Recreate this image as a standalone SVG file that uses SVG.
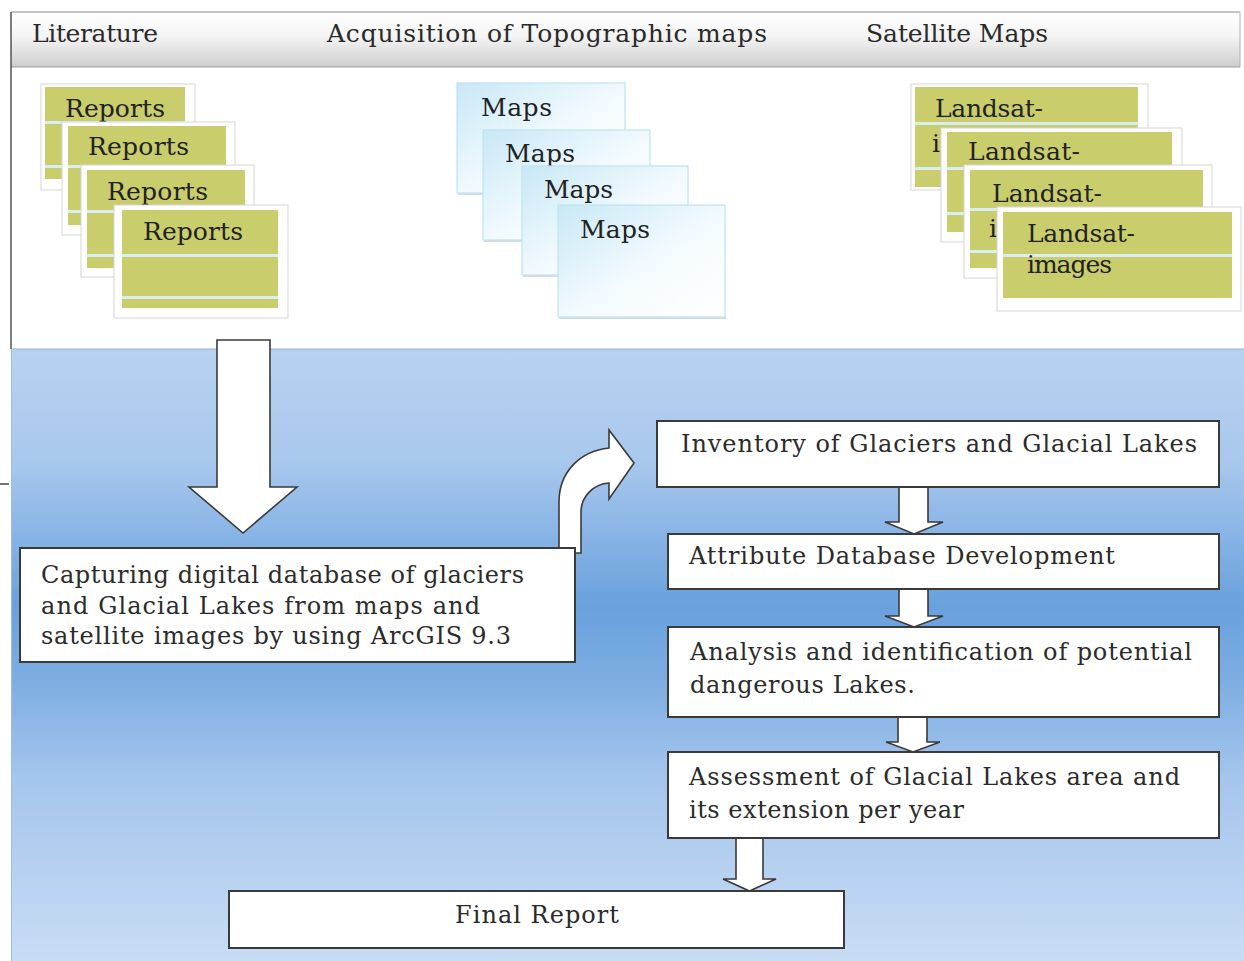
<svg xmlns="http://www.w3.org/2000/svg" width="1244" height="961" viewBox="0 0 1244 961">
  <defs>
    <linearGradient id="headerGrad" x1="0" y1="0" x2="0" y2="1">
      <stop offset="0" stop-color="#ffffff"/>
      <stop offset="0.45" stop-color="#f4f4f4"/>
      <stop offset="1" stop-color="#cdcdcd"/>
    </linearGradient>
    <linearGradient id="blueGrad" gradientUnits="userSpaceOnUse" x1="0" y1="349" x2="0" y2="961">
      <stop offset="0" stop-color="#b8d2f0"/>
      <stop offset="0.18" stop-color="#a9c8ed"/>
      <stop offset="0.31" stop-color="#86b3e5"/>
      <stop offset="0.42" stop-color="#69a1dc"/>
      <stop offset="0.54" stop-color="#7cade2"/>
      <stop offset="0.70" stop-color="#a4c5ec"/>
      <stop offset="1" stop-color="#c8dcf4"/>
    </linearGradient>
    <linearGradient id="mapGrad" x1="0" y1="0" x2="1" y2="1">
      <stop offset="0" stop-color="#c8e8f6"/>
      <stop offset="0.55" stop-color="#f4fbfe"/>
      <stop offset="1" stop-color="#ffffff"/>
    </linearGradient>
    <style>
      .hdr { font-family: "DejaVu Serif", "Liberation Serif", serif; font-size: 25px; fill: #2a2a2a; }
      .lbl { font-family: "DejaVu Serif", "Liberation Serif", serif; font-size: 25px; fill: #222; }
      .txt { font-family: "DejaVu Serif", "Liberation Serif", serif; font-size: 24px; fill: #2b2b2b; }
      .sheet { fill: #ffffff; stroke: #d6d6d6; stroke-width: 1; }
      .yel { fill: #cacd6c; }
      .strip { fill: #d9eef1; }
      .map { fill: url(#mapGrad); stroke: #bfe3f2; stroke-width: 1.2; }
      .mapshadow { fill: #d4dde2; }
      .box { fill: #ffffff; stroke: #3a3a3a; stroke-width: 2; }
      .arrow { fill: #ffffff; stroke: #3a3a3a; stroke-width: 1.6; stroke-linejoin: miter; }
    </style>
  </defs>

  <!-- page background -->
  <rect x="0" y="0" width="1244" height="961" fill="#ffffff"/>

  <!-- lower blue panel -->
  <rect x="11" y="349" width="1233" height="612" fill="url(#blueGrad)"/>
  <line x1="11" y1="349" x2="1244" y2="349" stroke="#8fb4de" stroke-width="1"/>
  <line x1="11.5" y1="349" x2="11.5" y2="961" stroke="#9dbde4" stroke-width="1"/>

  <!-- header band -->
  <g id="header">
    <rect x="11" y="12" width="1229" height="55" fill="url(#headerGrad)"/>
    <line x1="11" y1="12" x2="1240" y2="12" stroke="#8a8a8a" stroke-width="1"/>
    <line x1="11" y1="67" x2="1240" y2="67" stroke="#9a9a9a" stroke-width="1.2"/>
    <line x1="1240" y1="12" x2="1240" y2="67" stroke="#b0b0b0" stroke-width="1"/>
    <text class="hdr" x="32" y="42" textLength="126">Literature</text>
    <text class="hdr" x="327" y="42" textLength="440">Acquisition of Topographic maps</text>
    <text class="hdr" x="866" y="42" textLength="182">Satellite Maps</text>
  </g>
  <!-- left frame edge of the upper panel -->
  <line x1="11" y1="12" x2="11" y2="349" stroke="#555" stroke-width="1.5"/>
  <line x1="0" y1="484" x2="9" y2="484" stroke="#444" stroke-width="1.5"/>

  <!-- stack of report sheets -->
  <g id="reports">
    <g id="report-1">
      <rect class="sheet" x="41" y="84" width="154" height="106"/>
      <rect class="yel" x="45" y="87" width="140" height="92"/>
      <rect class="strip" x="45" y="121" width="140" height="3"/>
      <rect class="strip" x="45" y="165" width="140" height="3"/>
      <text class="lbl" x="65" y="117" textLength="100">Reports</text>
    </g>
    <g id="report-2">
      <rect class="sheet" x="62" y="122" width="173" height="113"/>
      <rect class="yel" x="68" y="126" width="158" height="99"/>
      <rect class="strip" x="68" y="165" width="158" height="3"/>
      <rect class="strip" x="68" y="210" width="158" height="3"/>
      <text class="lbl" x="88" y="155" textLength="101">Reports</text>
    </g>
    <g id="report-3">
      <rect class="sheet" x="81" y="165" width="173" height="112"/>
      <rect class="yel" x="87" y="170" width="158" height="98"/>
      <rect class="strip" x="87" y="210" width="158" height="3"/>
      <rect class="strip" x="87" y="254" width="158" height="3"/>
      <text class="lbl" x="107" y="200" textLength="101">Reports</text>
    </g>
    <g id="report-4">
      <rect class="sheet" x="114" y="205" width="174" height="113"/>
      <rect class="yel" x="122" y="210" width="156" height="98"/>
      <rect class="strip" x="122" y="254" width="156" height="3"/>
      <rect class="strip" x="122" y="296" width="156" height="3"/>
      <text class="lbl" x="143" y="240" textLength="100">Reports</text>
    </g>
  </g>

  <!-- stack of topographic map sheets -->
  <g id="maps">
    <g id="map-1">
      <rect class="mapshadow" x="458" y="192" width="168" height="3"/>
      <rect class="map" x="457" y="83" width="168" height="110"/>
      <text class="lbl" x="481" y="116" textLength="71">Maps</text>
    </g>
    <g id="map-2">
      <rect class="mapshadow" x="484" y="239" width="167" height="3"/>
      <rect class="map" x="483" y="130" width="167" height="110"/>
      <text class="lbl" x="505" y="162" textLength="70">Maps</text>
    </g>
    <g id="map-3">
      <rect class="mapshadow" x="523" y="274" width="166" height="3"/>
      <rect class="map" x="522" y="166" width="166" height="109"/>
      <text class="lbl" x="544" y="198" textLength="69">Maps</text>
    </g>
    <g id="map-4">
      <rect class="mapshadow" x="559" y="316" width="167" height="3"/>
      <rect class="map" x="558" y="205" width="167" height="112"/>
      <text class="lbl" x="580" y="238" textLength="70">Maps</text>
    </g>
  </g>

  <!-- stack of satellite image sheets; only the first letter of the
       lower line peeks out from under the next sheet -->
  <g id="landsat">
    <g id="landsat-1">
      <rect class="sheet" x="911" y="84" width="237" height="106"/>
      <rect class="yel" x="915" y="87" width="223" height="100"/>
      <rect class="strip" x="915" y="122" width="223" height="3"/>
      <rect class="strip" x="915" y="167" width="223" height="3"/>
      <text class="lbl" x="935" y="117" textLength="108">Landsat-</text>
      <text class="lbl" x="932" y="152">i</text>
    </g>
    <g id="landsat-2">
      <rect class="sheet" x="941" y="128" width="241" height="114"/>
      <rect class="yel" x="947" y="132" width="225" height="100"/>
      <rect class="strip" x="947" y="167" width="225" height="3"/>
      <rect class="strip" x="947" y="212" width="225" height="3"/>
      <text class="lbl" x="968" y="160" textLength="112">Landsat-</text>
    </g>
    <g id="landsat-3">
      <rect class="sheet" x="964" y="165" width="248" height="113"/>
      <rect class="yel" x="970" y="170" width="233" height="98"/>
      <rect class="strip" x="970" y="208" width="233" height="3"/>
      <rect class="strip" x="970" y="250" width="233" height="3"/>
      <text class="lbl" x="992" y="202" textLength="110">Landsat-</text>
      <text class="lbl" x="989" y="237">i</text>
    </g>
    <g id="landsat-4">
      <rect class="sheet" x="997" y="207" width="244" height="104"/>
      <rect class="yel" x="1003" y="212" width="229" height="86"/>
      <rect class="strip" x="1003" y="254" width="229" height="3"/>
      <text class="lbl" x="1027" y="242" textLength="108">Landsat-</text>
      <text class="lbl" x="1027" y="273" textLength="85">images</text>
    </g>
  </g>

  <!-- block arrows linking the steps -->
  <g id="connectors">
    <path class="arrow" d="M217,340 L270,340 L270,487 L297,487 L243,533 L189,487 L217,487 Z"/>
    <path class="arrow" d="M559,553 L559,502 C559,472 580,451 609,448 L609,430 L634,463 L609,499 L609,483 C594,484 581,496 581,512 L581,553 Z"/>
    <path class="arrow" d="M899,487 L928,487 L928,522 L943,522 L914,534 L885,522 L899,522 Z"/>
    <path class="arrow" d="M899,589 L928,589 L928,616 L943,616 L914,627 L885,616 L899,616 Z"/>
    <path class="arrow" d="M898,717 L927,717 L927,742 L940,742 L913,752 L886,742 L898,742 Z"/>
    <path class="arrow" d="M736,838 L763,838 L763,879 L776,879 L749.5,891 L723,879 L736,879 Z"/>
  </g>

  <g id="capture">
    <rect class="box" x="20" y="548" width="555" height="114"/>
    <text class="txt" x="41" y="583" textLength="483">Capturing digital database of glaciers</text>
    <text class="txt" x="41" y="614" textLength="439">and Glacial Lakes from maps and</text>
    <text class="txt" x="41" y="644" textLength="470">satellite images by using ArcGIS 9.3</text>
  </g>

  <g id="inventory">
    <rect class="box" x="657" y="421" width="562" height="66"/>
    <text class="txt" x="681" y="452" textLength="516">Inventory of Glaciers and Glacial Lakes</text>
  </g>

  <g id="attribute">
    <rect class="box" x="668" y="534" width="551" height="55"/>
    <text class="txt" x="689" y="564" textLength="426">Attribute Database Development</text>
  </g>

  <g id="analysis">
    <rect class="box" x="668" y="627" width="551" height="90"/>
    <text class="txt" x="690" y="660" textLength="502">Analysis and identification of potential</text>
    <text class="txt" x="690" y="693" textLength="225">dangerous Lakes.</text>
  </g>

  <g id="assessment">
    <rect class="box" x="668" y="752" width="551" height="86"/>
    <text class="txt" x="689" y="785" textLength="491">Assessment of Glacial Lakes area and</text>
    <text class="txt" x="689" y="818" textLength="275">its extension per year</text>
  </g>

  <g id="final-report">
    <rect class="box" x="229" y="891" width="615" height="57"/>
    <text class="txt" x="455" y="923" textLength="164">Final Report</text>
  </g>
</svg>
